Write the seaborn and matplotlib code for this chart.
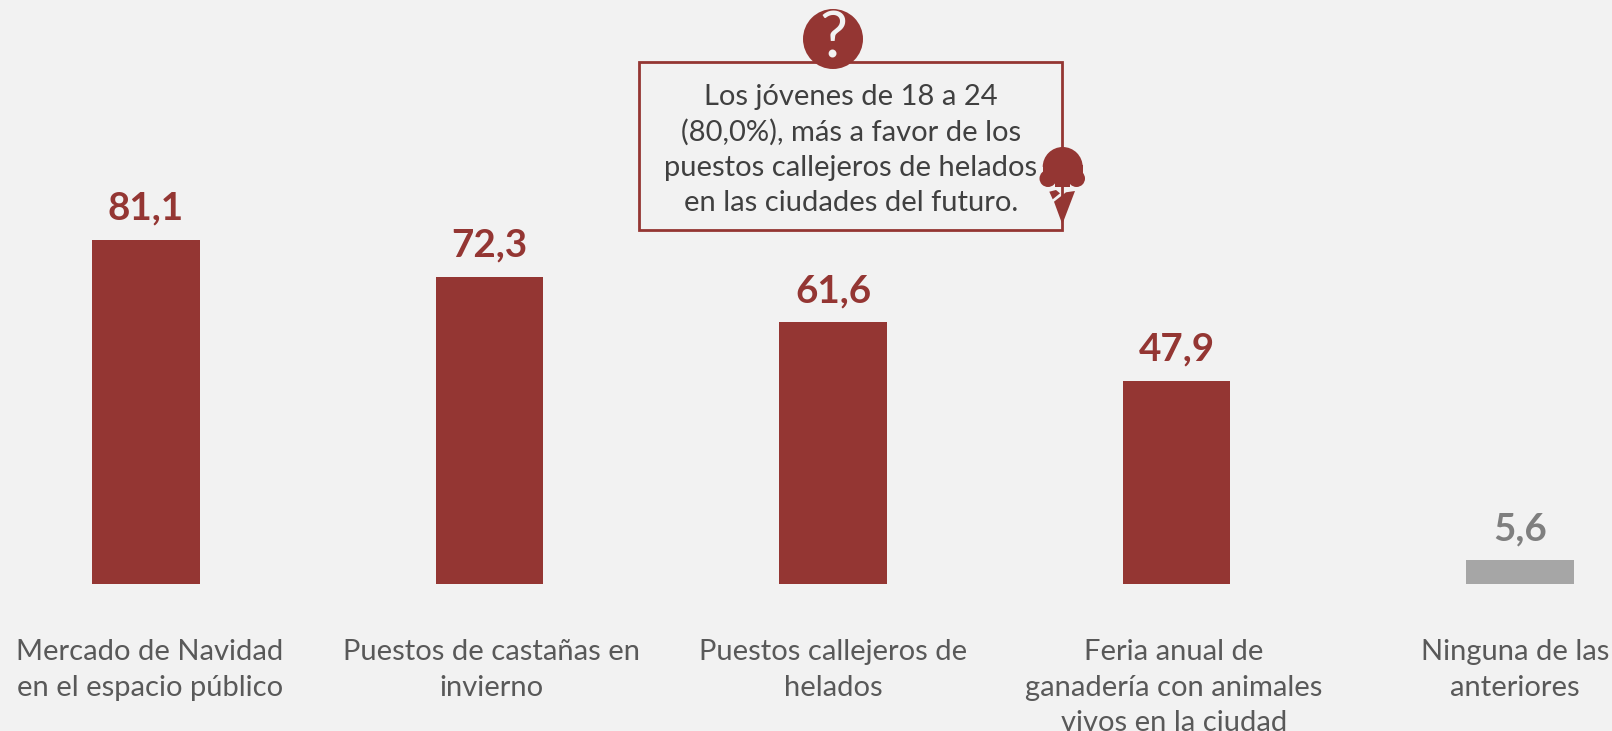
import numpy as np
import pandas as pd
import seaborn as sns
from matplotlib import pyplot as plt
from matplotlib import transforms
from matplotlib.patches import Rectangle, Circle, Polygon, Wedge

categories = ["Mercado de Navidad\nen el espacio público",
              "Puestos de castañas en\ninvierno",
              "Puestos callejeros de\nhelados",
              "Feria anual de\nganadería con animales\nvivos en la ciudad",
              "Ninguna de las\nanteriores"]
values = [81.1, 72.3, 61.6, 47.9, 5.6]
groups = ["main", "main", "main", "main", "none"]
note = "Los jóvenes de 18 a 24\n(80,0%), más a favor de los\npuestos callejeros de helados\nen las ciudades del futuro."

RED = "#943633"
GRAY = "#a6a6a6"
BG = "#f2f2f2"
W, H = 1612, 731

sns.set_theme(style="white")
plt.rcParams["font.family"] = ["Lato", "DejaVu Sans"]

df = pd.DataFrame({"cat": categories, "val": values, "group": groups})

fig = plt.figure(figsize=(W / 100, H / 100), dpi=100, facecolor=BG)
ax = fig.add_axes([0, 0, 1, 1], facecolor=BG)
sns.barplot(data=df, x="cat", y="val", hue="group", dodge=False, legend=False,
            palette={"main": RED, "none": GRAY}, width=0.314, saturation=1,
            linewidth=0, ax=ax)

# one category step = 343.5 px, one unit = 4.247 px
step = 343.5
unit = 4.247
ax.set_xlim(-146 / step, (W - 146) / step)
ax.set_ylim(-(H - 584) / unit, 584 / unit)
ax.set_xlabel("")
ax.set_ylabel("")
ax.set_yticks([])
sns.despine(fig=fig, left=True, bottom=True, top=True, right=True)

for c in ax.containers:
    for bar in c:
        if bar.get_height() > 0:
            col = RED if bar.get_facecolor()[1] < 0.5 else "#7f7f7f"
            ax.annotate(f"{bar.get_height():.1f}".replace(".", ","),
                        (bar.get_x() + bar.get_width() / 2, bar.get_height()),
                        xytext=(0, 14), textcoords="offset pixels", ha="center", va="bottom",
                        fontsize=27.8, fontweight="bold", color=col)

# category labels sit in the lower part of the full-figure axes
label_shift = [4, 2, 0, -2.5, -5]
for i, name in enumerate(categories):
    off = transforms.ScaledTranslation(label_shift[i] / 100, 0, fig.dpi_scale_trans)
    ax.text(i, -(639 - 584) / unit, name, transform=ax.transData + off, ha="center", va="top",
            fontsize=21, color="#595959", linespacing=1.46)
ax.set_xticks([])

# overlay in pixel coordinates for the note box and icons
ov = fig.add_axes([0, 0, 1, 1])
ov.set_xlim(0, W)
ov.set_ylim(H, 0)
ov.axis("off")
ov.patch.set_alpha(0)
ov.add_patch(Rectangle((639, 62), 423, 168, fill=False, ec=RED, lw=2))
ov.text(851, 150, note, ha="center", va="center", fontsize=21, color="#404040", linespacing=1.42)

ov.add_patch(Circle((833, 39), 30, fc=RED, ec="none", zorder=3))
ov.text(833, 39, "?", ha="center", va="center", fontsize=45, color=BG, zorder=4)

ov.add_patch(Wedge((1062.7, 167), 20, 180, 360, fc=RED, ec="none", zorder=3))
ov.add_patch(Rectangle((1042.7, 165), 40, 18, fc=RED, ec="none", zorder=3))
ov.add_patch(Circle((1048, 178.5), 8.5, fc=RED, ec="none", zorder=3))
ov.add_patch(Circle((1076.5, 178.5), 8.5, fc=RED, ec="none", zorder=3))
ov.add_patch(Rectangle((1055, 180), 15, 7, fc=RED, ec="none", zorder=3))
ov.add_patch(Polygon([(1049.3, 191.7), (1056, 190), (1060, 193.3), (1052.7, 199.3)], fc=RED, ec="none", zorder=3))
ov.add_patch(Polygon([(1066, 192.3), (1075, 191), (1062.3, 224.3), (1054, 201.7)], fc=RED, ec="none", zorder=3))

fig.savefig("out.png", dpi=100, facecolor=BG)
